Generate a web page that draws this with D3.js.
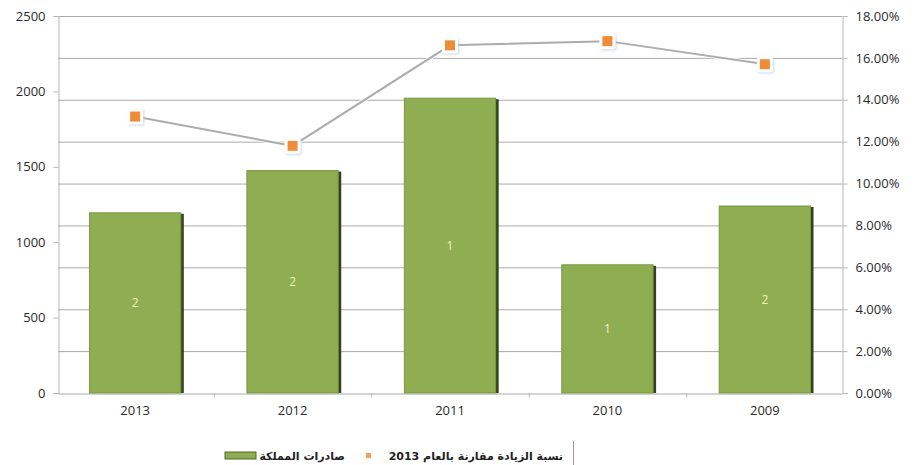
<!DOCTYPE html>
<html>
<head>
<meta charset="utf-8">
<script src="https://cdn.jsdelivr.net/npm/d3@7"></script>
<style>
  html, body { margin: 0; padding: 0; background: #fff; }
  svg { display: block; }
  .axis text { font-family: "Open Sans", "DejaVu Sans", sans-serif; font-size: 13px; fill: #2a2a2a; }
</style>
</head>
<body>
<svg id="chart" width="915" height="465"></svg>
<script>
// Years shown on the category axis
const years = ["2013", "2012", "2011", "2010", "2009"];
// Kingdom exports (left axis)
const exportsValues = [1195, 1475, 1955, 850, 1240];
// Labels printed inside the bars
const barLabels = ["2", "2", "1", "1", "2"];
// Increase ratio compared with 2013 (right axis)
const increaseRatio = [0.132, 0.118, 0.166, 0.168, 0.157];
// Axis ticks
const leftTicks = [0, 500, 1000, 1500, 2000, 2500];
const rightTicks = [0, 0.02, 0.04, 0.06, 0.08, 0.10, 0.12, 0.14, 0.16, 0.18];
// Legend texts
const legendBars = "صادرات المملكة";
const legendLine = "نسبة الزيادة مقارنة بالعام 2013";

const svg = d3.select("#chart");
const plot = { left: 58, right: 842, top: 16, bottom: 393 };

const x = d3.scaleBand().domain(years).range([plot.left, plot.right])
  .paddingInner(0.42).paddingOuter(0.2);
const yL = d3.scaleLinear().domain([0, 2500]).range([plot.bottom, plot.top]);
const yR = d3.scaleLinear().domain([0, 0.18]).range([plot.bottom, plot.top]);

const defs = svg.append("defs");
const glow = defs.append("filter").attr("id", "glow")
  .attr("x", "-50%").attr("y", "-50%").attr("width", "200%").attr("height", "200%");
glow.append("feDropShadow").attr("dx", 1).attr("dy", 1).attr("stdDeviation", 1.2)
  .attr("flood-color", "#b8cce0").attr("flood-opacity", 0.8);

// Gridlines follow the right-hand percentage ticks
svg.append("g").selectAll("line").data(rightTicks.filter(d => d > 0)).join("line")
  .attr("x1", plot.left).attr("x2", plot.right)
  .attr("y1", d => yR(d) + 0.5).attr("y2", d => yR(d) + 0.5)
  .attr("stroke", "#a9a9a9").attr("stroke-width", 1);

// Left axis
const axL = svg.append("g").attr("class", "axis")
  .attr("transform", `translate(${plot.left + 0.5},0)`)
  .call(d3.axisLeft(yL).tickValues(leftTicks).tickSize(5).tickPadding(8).tickFormat(d3.format("d")));
axL.select(".domain").attr("stroke", "#b5b5b5");
axL.selectAll(".tick line").attr("stroke", "#b5b5b5");

// Right axis
const axR = svg.append("g").attr("class", "axis")
  .attr("transform", `translate(${plot.right + 0.5},0)`)
  .call(d3.axisRight(yR).tickValues(rightTicks).tickSize(5).tickPadding(8).tickFormat(d3.format(".2%")));
axR.select(".domain").attr("stroke", "#b5b5b5");
axR.selectAll(".tick line").attr("stroke", "#b5b5b5");

// Category axis
const axB = svg.append("g").attr("class", "axis")
  .attr("transform", `translate(0,${plot.bottom + 0.5})`)
  .call(d3.axisBottom(x).tickSize(0).tickPadding(12));
axB.select(".domain").attr("stroke", "#a9a9a9");
axB.selectAll(".tick text").attr("fill", "#222");
// small separators between categories
svg.append("g").selectAll("line").data(years.slice(1)).join("line")
  .attr("x1", d => x(d) - x.step() * x.paddingInner() / 2 + 0.5)
  .attr("x2", d => x(d) - x.step() * x.paddingInner() / 2 + 0.5)
  .attr("y1", plot.bottom).attr("y2", plot.bottom + 4)
  .attr("stroke", "#b5b5b5");

// Bars with a dark edge on the right
const bars = svg.append("g");
const barData = years.map((y, i) => ({ year: y, v: exportsValues[i], label: barLabels[i] }));
bars.selectAll("rect.shadow").data(barData).join("rect").attr("class", "shadow")
  .attr("x", d => x(d.year) + 3).attr("width", x.bandwidth())
  .attr("y", d => yL(d.v) + 1).attr("height", d => plot.bottom - yL(d.v) - 1)
  .attr("fill", "#34401f");
bars.selectAll("rect.bar").data(barData).join("rect").attr("class", "bar")
  .attr("x", d => x(d.year)).attr("width", x.bandwidth())
  .attr("y", d => yL(d.v)).attr("height", d => plot.bottom - yL(d.v))
  .attr("fill", "#8fae52").attr("stroke", "#7a9845").attr("stroke-width", 1);
bars.selectAll("text").data(barData).join("text")
  .attr("x", d => x(d.year) + x.bandwidth() / 2)
  .attr("y", d => (yL(d.v) + plot.bottom) / 2)
  .attr("dy", "0.35em").attr("text-anchor", "middle")
  .attr("font-family", "Open Sans, sans-serif").attr("font-size", 12)
  .attr("fill", "#eef3b8").text(d => d.label);

// Percentage line with square markers
const pts = years.map((y, i) => ({ year: y, v: increaseRatio[i] }));
const line = d3.line().x(d => x(d.year) + x.bandwidth() / 2).y(d => yR(d.v));
svg.append("path").datum(pts).attr("d", line)
  .attr("fill", "none").attr("stroke", "#ffffff").attr("stroke-width", 4).attr("opacity", 0.9);
svg.append("path").datum(pts).attr("d", line)
  .attr("fill", "none").attr("stroke", "#acacac").attr("stroke-width", 2);
const mk = svg.append("g").selectAll("g").data(pts).join("g")
  .attr("transform", d => `translate(${x(d.year) + x.bandwidth() / 2},${yR(d.v)})`);
mk.append("rect").attr("x", -8).attr("y", -8).attr("width", 16).attr("height", 16).attr("rx", 2)
  .attr("fill", "#ffffff").attr("filter", "url(#glow)");
mk.append("rect").attr("x", -5).attr("y", -5).attr("width", 10).attr("height", 10)
  .attr("fill", "#f08c36");

// Legend
const lg = svg.append("g");
lg.append("line").attr("x1", 573.5).attr("x2", 573.5).attr("y1", 441).attr("y2", 465)
  .attr("stroke", "#999");
lg.append("text").attr("x", 563).attr("y", 460).attr("text-anchor", "end")
  .attr("font-family", "DejaVu Sans, sans-serif").attr("font-weight", "bold").attr("font-size", 11)
  .attr("fill", "#222").text(legendLine);
lg.append("rect").attr("x", 366).attr("y", 453).attr("width", 5).attr("height", 5).attr("fill", "#f5a055");
lg.append("text").attr("x", 345).attr("y", 460).attr("text-anchor", "end")
  .attr("font-family", "DejaVu Sans, sans-serif").attr("font-weight", "bold").attr("font-size", 11)
  .attr("fill", "#222").text(legendBars);
lg.append("rect").attr("x", 225).attr("y", 452).attr("width", 31).attr("height", 7)
  .attr("fill", "#8fae52").attr("stroke", "#4e6a2a").attr("stroke-width", 1);
</script>
</body>
</html>
